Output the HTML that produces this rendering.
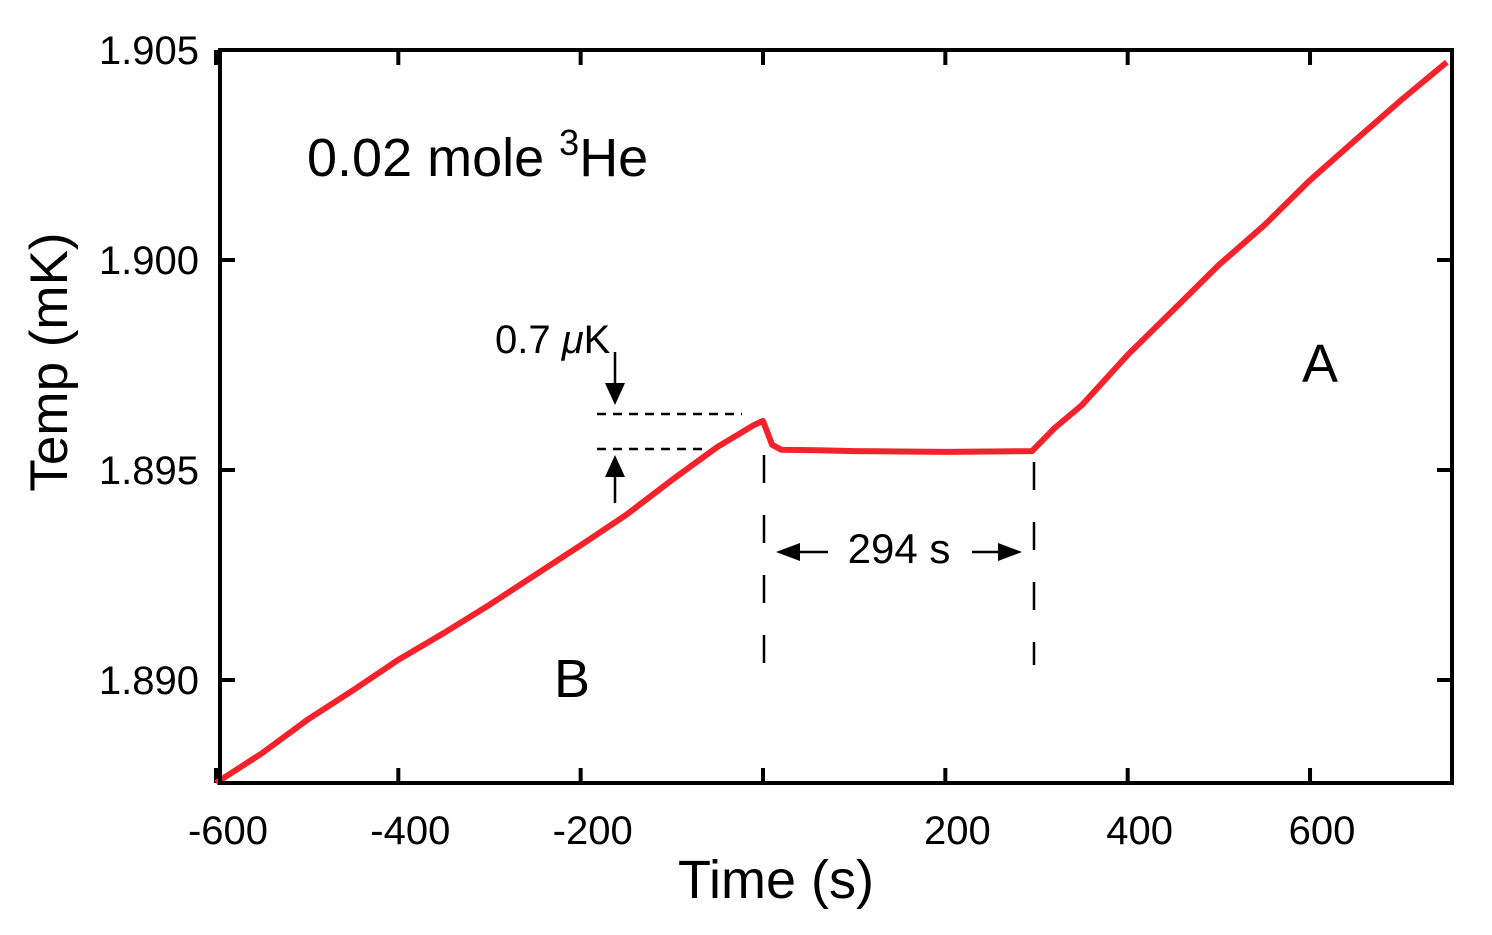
<!DOCTYPE html>
<html><head><meta charset="utf-8"><style>
body{margin:0;background:#fff}
svg{display:block;font-family:"Liberation Sans",sans-serif}
</style></head><body>
<svg id="chart" width="1492" height="935">
<g id="grid"></g>
<g id="series"></g>
<g stroke="#000" fill="none">
  <line x1="597" y1="414" x2="742" y2="414" stroke-width="2.5" stroke-dasharray="9,7"/>
  <line x1="597" y1="449" x2="702" y2="449" stroke-width="2.5" stroke-dasharray="9,7"/>
  <line x1="615" y1="352" x2="615" y2="390" stroke-width="2.5"/>
  <polygon points="605,383 625,383 615,405" fill="#000" stroke="none"/>
  <line x1="615" y1="503" x2="615" y2="470" stroke-width="2.5"/>
  <polygon points="605,477 625,477 615,455" fill="#000" stroke="none"/>
  <line x1="764" y1="455" x2="764" y2="670" stroke-width="2.5" stroke-dasharray="28,32"/>
  <line x1="1034" y1="462" x2="1034" y2="665" stroke-width="2.5" stroke-dasharray="28,32"/>
  <line x1="790" y1="552" x2="828" y2="552" stroke-width="2.5"/>
  <polygon points="776,552 800,543 800,561" fill="#000" stroke="none"/>
  <line x1="972" y1="552" x2="1008" y2="552" stroke-width="2.5"/>
  <polygon points="1022,552 998,543 998,561" fill="#000" stroke="none"/>
</g>
<text x="495" y="353" font-size="40">0.7 <tspan font-style="italic">μ</tspan>K</text>
<text x="899" y="563" font-size="42" text-anchor="middle">294 s</text>
<text x="307" y="176" font-size="54">0.02 mole <tspan font-size="36" dy="-21">3</tspan><tspan dy="21">He</tspan></text>
<text x="1320" y="382" font-size="54" text-anchor="middle">A</text>
<text x="572" y="697" font-size="54" text-anchor="middle">B</text>
<text x="776" y="898" font-size="54" text-anchor="middle">Time (s)</text>
<text transform="translate(67,362) rotate(-90)" font-size="53" text-anchor="middle">Temp (mK)</text>
<rect x="220" y="50" width="1232" height="733" fill="none" stroke="#000" stroke-width="4"/>
</svg>
<script>
const xTicks=[-600,-400,-200,0,200,400,600];
const xTickLabels=["-600","-400","-200","","200","400","600"];
const yTicks=[1.890,1.895,1.900,1.905];
const yTickLabels=["1.890","1.895","1.900","1.905"];
const times=[-600,-550,-500,-450,-400,-350,-300,-250,-200,-150,-100,-50,-10,0,10,20,60,100,150,200,250,295,320,350,400,450,500,550,600,650,700,750];
const temps=[1.88755,1.88825,1.88905,1.88975,1.89048,1.89112,1.89179,1.89250,1.89321,1.89393,1.89476,1.89555,1.89607,1.89617,1.89560,1.89548,1.89547,1.89545,1.89544,1.89543,1.89544,1.89545,1.89600,1.89655,1.89774,1.89881,1.89988,1.90083,1.90190,1.90286,1.90381,1.90471];
const X=t=>763+(t*0.9117);
const Y=v=>50+(1.905-v)*42000;
const NS="http://www.w3.org/2000/svg";
const grid=document.getElementById('grid');
const ser=document.getElementById('series');
function mk(tag,at,par){const e=document.createElementNS(NS,tag);for(const k in at)e.setAttribute(k,at[k]);par.appendChild(e);return e;}
xTicks.forEach((t,i)=>{
  const x=X(t);
  const a=mk('line',{x1:x,y1:783,x2:x,y2:768,stroke:'#000','stroke-width':4},grid);
  
  
  const b=mk('line',{x1:x,y1:50,x2:x,y2:65,stroke:'#000','stroke-width':4},grid);
  
  
  if(xTickLabels[i]){
    const tx=mk('text',{x:x+12,y:844,'font-size':40,'text-anchor':'middle'},grid);
    tx.textContent=xTickLabels[i];
    
    
  }
});
yTicks.forEach((v,i)=>{
  const y=Y(v);
  const a=mk('line',{x1:220,y1:y,x2:235,y2:y,stroke:'#000','stroke-width':4},grid);
  
  
  const b=mk('line',{x1:1452,y1:y,x2:1437,y2:y,stroke:'#000','stroke-width':4},grid);
  
  
  const tx=mk('text',{x:199,y:y+14,'font-size':40,'text-anchor':'end'},grid);
  tx.textContent=yTickLabels[i];
  
  
});
const pts=times.map((t,i)=>X(t).toFixed(1)+','+Y(temps[i]).toFixed(1)).join(' ');
const pl=mk('polyline',{points:pts,fill:'none',stroke:'#f5212b','stroke-width':6,'stroke-linejoin':'round'},ser);


</script>
</body></html>
